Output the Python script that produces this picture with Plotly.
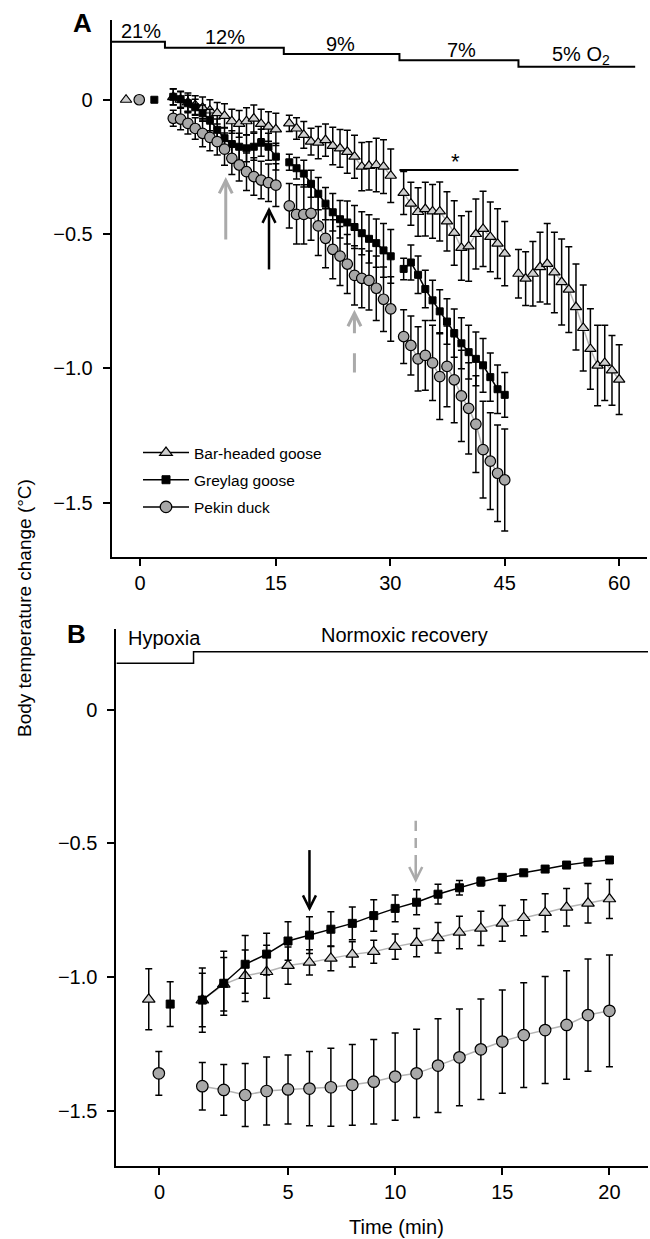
import plotly.graph_objects as go

FONT = "Liberation Sans, Arial, Helvetica, sans-serif"

# ---------------- Panel A : progressive hypoxia ----------------
# sample times (min) within each O2 stage
T12 = [1.55, 2.51, 3.47, 4.43, 5.39, 6.35, 7.31, 8.27, 9.23, 10.19, 11.15, 12.11, 13.07, 14.03, 15.0]
T9 = [16.76, 17.71, 18.66, 19.61, 20.56, 21.51, 22.46, 23.41, 24.36, 25.31, 26.26, 27.21, 28.16, 29.11, 30.06]
T7 = [31.75, 32.7, 33.64, 34.59, 35.54, 36.48, 37.43, 38.38, 39.32, 40.27, 41.22, 42.16, 43.11, 44.06, 45.0]
T5 = [46.8, 47.74, 48.69, 49.63, 50.57, 51.51, 52.46, 53.4, 54.34, 55.29, 56.23, 57.17, 58.11, 59.06, 60.0]

# baseline (21% O2) points
base_t = {"bhg": -4.64, "pd": -2.91, "gg": -0.93}
base_v = {"bhg": 0.0, "pd": 0.0, "gg": 0.0}

# Bar-headed goose
bhg12 = [0.01, 0.0, -0.01, -0.02, -0.03, -0.04, -0.05, -0.06, -0.08, -0.09, -0.08, -0.07, -0.09, -0.10, -0.11]
bhg9 = [-0.088, -0.107, -0.131, -0.156, -0.160, -0.150, -0.172, -0.181, -0.194, -0.212, -0.249, -0.246, -0.243, -0.249, -0.283]
bhg7 = [-0.347, -0.387, -0.418, -0.407, -0.416, -0.416, -0.453, -0.496, -0.552, -0.546, -0.500, -0.481, -0.511, -0.536, -0.573]
bhg5 = [-0.648, -0.666, -0.648, -0.623, -0.611, -0.643, -0.679, -0.707, -0.772, -0.850, -0.928, -0.990, -0.980, -1.008, -1.042]
bhg12_se = [0.03, 0.03, 0.035, 0.035, 0.04, 0.04, 0.04, 0.045, 0.045, 0.05, 0.05, 0.05, 0.055, 0.055, 0.06]
bhg9_se = [0.03, 0.04, 0.05, 0.05, 0.06, 0.06, 0.07, 0.07, 0.08, 0.08, 0.09, 0.09, 0.10, 0.10, 0.10]
bhg7_se = [0.08, 0.08, 0.09, 0.10, 0.10, 0.11, 0.11, 0.12, 0.12, 0.13, 0.13, 0.14, 0.13, 0.13, 0.12]
bhg5_se = [0.09, 0.10, 0.12, 0.13, 0.15, 0.15, 0.16, 0.16, 0.16, 0.16, 0.15, 0.15, 0.14, 0.13, 0.13]

# Greylag goose
gg12 = [0.011, 0.002, -0.013, -0.028, -0.050, -0.075, -0.112, -0.143, -0.165, -0.175, -0.181, -0.175, -0.160, -0.175, -0.212]
gg9 = [-0.233, -0.255, -0.275, -0.313, -0.350, -0.387, -0.419, -0.445, -0.457, -0.474, -0.497, -0.518, -0.534, -0.561, -0.583]
gg7 = [-0.630, -0.606, -0.652, -0.705, -0.747, -0.788, -0.826, -0.869, -0.907, -0.940, -0.965, -0.989, -1.033, -1.078, -1.099]
gg12_se = [0.03, 0.03, 0.03, 0.03, 0.03, 0.04, 0.04, 0.04, 0.05, 0.05, 0.05, 0.05, 0.05, 0.05, 0.05]
gg9_se = [0.03, 0.04, 0.05, 0.05, 0.06, 0.06, 0.07, 0.07, 0.08, 0.08, 0.08, 0.09, 0.09, 0.10, 0.10]
gg7_se = [0.04, 0.065, 0.07, 0.07, 0.075, 0.08, 0.085, 0.09, 0.095, 0.10, 0.10, 0.10, 0.09, 0.09, 0.083]

# Pekin duck
pd12 = [-0.069, -0.072, -0.088, -0.107, -0.125, -0.140, -0.156, -0.184, -0.218, -0.243, -0.268, -0.286, -0.299, -0.309, -0.318]
pd9 = [-0.395, -0.427, -0.427, -0.423, -0.470, -0.516, -0.557, -0.582, -0.612, -0.654, -0.665, -0.673, -0.702, -0.743, -0.779]
pd7 = [-0.882, -0.915, -0.965, -0.952, -0.980, -1.031, -0.993, -1.043, -1.103, -1.149, -1.208, -1.303, -1.346, -1.391, -1.416]
pd12_se = [0.03, 0.04, 0.04, 0.04, 0.05, 0.05, 0.05, 0.06, 0.06, 0.06, 0.07, 0.07, 0.07, 0.07, 0.08]
pd9_se = [0.083, 0.11, 0.11, 0.10, 0.11, 0.11, 0.11, 0.11, 0.11, 0.11, 0.11, 0.11, 0.12, 0.12, 0.12]
pd7_se = [0.10, 0.11, 0.12, 0.13, 0.14, 0.16, 0.15, 0.16, 0.17, 0.17, 0.18, 0.18, 0.18, 0.18, 0.19]

# O2 stage bar
stage_labels = ["21%", "12%", "9%", "7%", "5% O<sub>2</sub>"]
stage_edges = [-6.52, 0.46, 16.04, 31.2, 46.8, 62.1]
stage_levels = [0.216, 0.194, 0.170, 0.147, 0.123]
stage_label_x = [-2.67, 8.33, 23.5, 39.3, 55.0]
stage_label_y = [0.257, 0.232, 0.207, 0.185, 0.166]

xticks_A = [-2.8, 15, 30, 45, 60]
xticklabels_A = ["0", "15", "30", "45", "60"]

# ---------------- Panel B : normoxic recovery ----------------
rec_t = [1, 2, 3, 4, 5, 6, 7, 8, 9, 10, 11, 12, 13, 14, 15, 16, 17, 18, 19, 20]
hyp_t = {"bhg": -1.5, "pd": -1.03, "gg": -0.5}
hyp_v = {"bhg": -1.083, "pd": -1.360, "gg": -1.101}
hyp_se = {"bhg": 0.114, "pd": 0.082, "gg": 0.084}

bhg_rec = [-1.086, -1.027, -0.995, -0.980, -0.957, -0.945, -0.930, -0.915, -0.905, -0.886,
           -0.871, -0.853, -0.833, -0.818, -0.799, -0.778, -0.759, -0.739, -0.724, -0.708]
bhg_rec_se = [0.10, 0.10, 0.096, 0.099, 0.07, 0.047, 0.046, 0.047, 0.043, 0.047,
              0.053, 0.057, 0.061, 0.064, 0.067, 0.067, 0.071, 0.07, 0.074, 0.073]
gg_rec = [-1.086, -1.023, -0.952, -0.914, -0.865, -0.843, -0.821, -0.799, -0.770, -0.743,
          -0.720, -0.690, -0.666, -0.643, -0.627, -0.610, -0.596, -0.581, -0.570, -0.562]
gg_rec_se = [0.12, 0.12, 0.108, 0.078, 0.072, 0.069, 0.065, 0.061, 0.059, 0.05,
             0.047, 0.037, 0.027, 0.016, 0.012, 0.01, 0.01, 0.01, 0.01, 0.01]
pd_rec = [-1.408, -1.422, -1.441, -1.426, -1.420, -1.417, -1.412, -1.403, -1.391, -1.372,
          -1.360, -1.331, -1.300, -1.270, -1.241, -1.217, -1.198, -1.179, -1.142, -1.126]
pd_rec_se = [0.089, 0.095, 0.118, 0.127, 0.129, 0.139, 0.146, 0.151, 0.158, 0.163,
             0.165, 0.175, 0.181, 0.188, 0.193, 0.196, 0.20, 0.203, 0.21, 0.209]

rec_edges = [-3.01, 0.59, 21.8]
rec_levels = [0.174, 0.217]
xticks_B = [-1, 5, 10, 15, 20]
xticklabels_B = ["0", "5", "10", "15", "20"]

yticks = [0, -0.5, -1.0, -1.5]
yticklabels = ["0", "\u22120.5", "\u22121.0", "\u22121.5"]

# ---------------- styling ----------------
TRI_FILL = "#cfcfcf"
CIR_FILL = "#a8a8a8"
LINE_GREY = "#b4b4b4"
ARROW_GREY = "#aaaaaa"

# axis geometry (px per data unit) used to size arrowheads
A_PX_X, A_PX_Y = 7.63, 268.6
B_PX_X, B_PX_Y = 21.43, 267.4


def join(segs):
    out = []
    for i, s in enumerate(segs):
        if i:
            out.append(None)
        out.extend(s)
    return out


def join_err(segs):
    out = []
    for i, s in enumerate(segs):
        if i:
            out.append(0)
        out.extend(s)
    return out


def err(arr):
    return dict(type="data", array=arr, visible=True, color="black", thickness=1.5, width=3.5)


MK = {
    "bhg": dict(symbol="triangle-up", color=TRI_FILL, line=dict(color="black", width=1.2)),
    "gg": dict(symbol="square", color="black", line=dict(color="black", width=1)),
    "pd": dict(symbol="circle", color=CIR_FILL, line=dict(color="black", width=1.2)),
}
SIZE_A = {"bhg": 10, "gg": 7, "pd": 10.5}
SIZE_B = {"bhg": 11, "gg": 8, "pd": 11.5}
LINEC = {"bhg": LINE_GREY, "gg": "black", "pd": LINE_GREY}

fig = go.Figure()

# stage bar A
fig.add_trace(go.Scatter(x=stage_edges, y=stage_levels + [stage_levels[-1]], mode="lines",
                         line=dict(color="black", width=2, shape="hv"), showlegend=False,
                         hoverinfo="skip", xaxis="x", yaxis="y"))
# significance bar over 7% stage
fig.add_trace(go.Scatter(x=[stage_edges[3], stage_edges[4]], y=[-0.262, -0.262], mode="lines",
                         line=dict(color="black", width=2), showlegend=False, hoverinfo="skip",
                         xaxis="x", yaxis="y"))

panelA = {
    "bhg": ([T12, T9, T7, T5], [bhg12, bhg9, bhg7, bhg5], [bhg12_se, bhg9_se, bhg7_se, bhg5_se]),
    "gg": ([T12, T9, T7], [gg12, gg9, gg7], [gg12_se, gg9_se, gg7_se]),
    "pd": ([T12, T9, T7], [pd12, pd9, pd7], [pd12_se, pd9_se, pd7_se]),
}
for key in ["bhg", "gg", "pd"]:
    ts, vs, es = panelA[key]
    fig.add_trace(go.Scatter(x=join(ts), y=join(vs), error_y=err(join_err(es)),
                             mode="lines+markers", connectgaps=False,
                             line=dict(color=LINEC[key], width=1.5),
                             marker=dict(size=SIZE_A[key], **MK[key]),
                             showlegend=False, xaxis="x", yaxis="y"))
    fig.add_trace(go.Scatter(x=[base_t[key]], y=[base_v[key]], mode="markers",
                             marker=dict(size=SIZE_A[key], **MK[key]),
                             showlegend=False, xaxis="x", yaxis="y"))

# legend entries (legend only)
names = {"bhg": "Bar-headed goose", "gg": "Greylag goose", "pd": "Pekin duck"}
for key in ["bhg", "gg", "pd"]:
    fig.add_trace(go.Scatter(x=[None], y=[None], mode="lines+markers", name=names[key],
                             line=dict(color="black", width=1.5),
                             marker=dict(size=SIZE_A[key] + 1, **MK[key]),
                             legendgroup=key, showlegend=True, xaxis="x", yaxis="y"))

# stage bar B
fig.add_trace(go.Scatter(x=rec_edges, y=rec_levels + [rec_levels[-1]], mode="lines",
                         line=dict(color="black", width=1.5, shape="hv"), showlegend=False,
                         hoverinfo="skip", xaxis="x2", yaxis="y2"))

panelB = {"bhg": (bhg_rec, bhg_rec_se), "gg": (gg_rec, gg_rec_se), "pd": (pd_rec, pd_rec_se)}
for key in ["pd", "bhg", "gg"]:
    vs, es = panelB[key]
    fig.add_trace(go.Scatter(x=rec_t, y=vs, error_y=err(es), mode="lines+markers",
                             line=dict(color=LINEC[key], width=1.5),
                             marker=dict(size=SIZE_B[key], **MK[key]),
                             showlegend=False, xaxis="x2", yaxis="y2"))
    fig.add_trace(go.Scatter(x=[hyp_t[key]], y=[hyp_v[key]], error_y=err([hyp_se[key]]),
                             mode="markers", marker=dict(size=SIZE_B[key], **MK[key]),
                             showlegend=False, xaxis="x2", yaxis="y2"))

annotations = []
shapes = []


def arrow(x, tail, tip, xr, yr, pxx, pxy, color, width, dash="solid"):
    """Vertical arrow from tail to tip (data coords) drawn as shapes."""
    shapes.append(dict(type="line", xref=xr, yref=yr, x0=x, x1=x, y0=tip, y1=tail,
                       line=dict(color=color, width=width, dash=dash)))
    d = 1 if tip > tail else -1
    hw = 6.5 / pxx
    hh = 13.0 / pxy
    path = "M {a},{b} L {c},{e} L {f},{b}".format(a=x - hw, b=tip - d * hh, c=x, e=tip, f=x + hw)
    shapes.append(dict(type="path", xref=xr, yref=yr, path=path,
                       line=dict(color=color, width=width)))


# stage labels A
for lab, lx, ly in zip(stage_labels, stage_label_x, stage_label_y):
    annotations.append(dict(x=lx, y=ly, xref="x", yref="y", text=lab, showarrow=False,
                            xanchor="center", yanchor="middle",
                            font=dict(size=20, family=FONT, color="black")))
annotations.append(dict(x=38.5, y=-0.231, xref="x", yref="y", text="*", showarrow=False,
                        xanchor="center", yanchor="middle",
                        font=dict(size=22, family=FONT, color="black")))

# arrows panel A (pointing up)
arrow(8.43, -0.52, -0.30, "x", "y", A_PX_X, A_PX_Y, ARROW_GREY, 3)
arrow(14.1, -0.632, -0.41, "x", "y", A_PX_X, A_PX_Y, "black", 2.5)
arrow(25.3, -1.016, -0.795, "x", "y", A_PX_X, A_PX_Y, ARROW_GREY, 3, dash="20px,20px")

# panel B labels
annotations.append(dict(x=-0.77, y=0.267, xref="x2", yref="y2", text="Hypoxia", showarrow=False,
                        xanchor="center", yanchor="middle",
                        font=dict(size=20, family=FONT, color="black")))
annotations.append(dict(x=10.43, y=0.279, xref="x2", yref="y2", text="Normoxic recovery", showarrow=False,
                        xanchor="center", yanchor="middle",
                        font=dict(size=20, family=FONT, color="black")))
# arrows panel B (pointing down)
arrow(6.0, -0.525, -0.743, "x2", "y2", B_PX_X, B_PX_Y, "black", 2.5)
arrow(10.96, -0.415, -0.637, "x2", "y2", B_PX_X, B_PX_Y, ARROW_GREY, 2.5,
      dash="25px,7px,10px,7px,12px,7px")

# panel letters, axis titles
annotations.append(dict(x=82 / 650, y=1 - 23 / 1239, xref="paper", yref="paper", text="<b>A</b>",
                        xanchor="center", yanchor="middle",
                        showarrow=False, font=dict(size=26, family=FONT, color="black")))
annotations.append(dict(x=76 / 650, y=1 - 634 / 1239, xref="paper", yref="paper", text="<b>B</b>",
                        xanchor="center", yanchor="middle",
                        showarrow=False, font=dict(size=26, family=FONT, color="black")))
annotations.append(dict(x=24 / 650, y=1 - 608 / 1239, xref="paper", yref="paper",
                        text="Body temperature change (\u00b0C)", textangle=-90, showarrow=False,
                        xanchor="center", yanchor="middle",
                        font=dict(size=19, family=FONT, color="black")))
annotations.append(dict(x=396 / 650, y=1 - 1227 / 1239, xref="paper", yref="paper",
                        text="Time (min)", showarrow=False, xanchor="center", yanchor="middle",
                        font=dict(size=20, family=FONT, color="black")))

axis_common = dict(showline=True, linecolor="black", linewidth=2, ticks="outside", ticklen=7,
                   tickwidth=1.5, tickcolor="black", showgrid=False, zeroline=False,
                   tickfont=dict(size=20, family=FONT, color="black"), tickmode="array")

fig.update_layout(
    width=650, height=1239,
    margin=dict(l=0, r=0, t=0, b=0),
    paper_bgcolor="white", plot_bgcolor="white",
    font=dict(family=FONT, color="black"),
    xaxis=dict(domain=[111.7 / 650, 647 / 650], range=[-6.52, 63.65], anchor="y",
               tickvals=xticks_A, ticktext=xticklabels_A, **axis_common),
    yaxis=dict(domain=[1 - 556.5 / 1239, 1 - 20 / 1239], range=[-1.701, 0.297], anchor="x",
               tickvals=yticks, ticktext=yticklabels, ticklabelstandoff=6, **axis_common),
    xaxis2=dict(domain=[116.4 / 650, 648 / 650], range=[-3.01, 21.8], anchor="y2",
                tickvals=xticks_B, ticktext=xticklabels_B, **axis_common),
    yaxis2=dict(domain=[1 - 1165.5 / 1239, 1 - 629.3 / 1239], range=[-1.7046, 0.3007], anchor="x2",
                tickvals=yticks, ticktext=yticklabels, ticklabelstandoff=6, **axis_common),
    legend=dict(x=138 / 650, y=1 - 436 / 1239, xanchor="left", yanchor="top",
                font=dict(size=15.5, family=FONT, color="black"), bgcolor="rgba(0,0,0,0)",
                itemwidth=46, tracegroupgap=4),
    annotations=annotations,
    shapes=shapes,
)

fig.write_html("out.html")
